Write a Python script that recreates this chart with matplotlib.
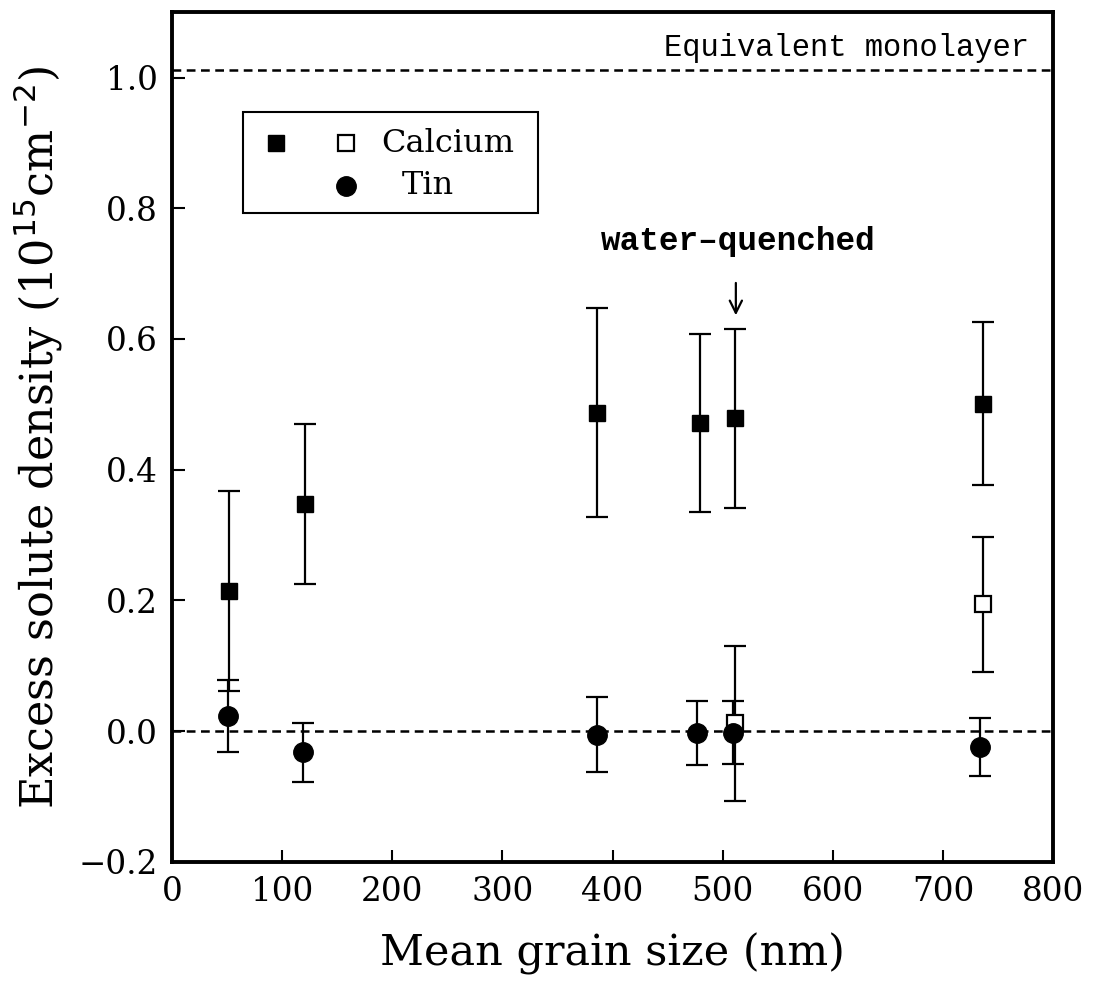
import numpy as np
import matplotlib
matplotlib.use("Agg")
import matplotlib.pyplot as plt
from matplotlib.patches import Rectangle

# calcium, filled squares (slow cooled)
ca_x = [52, 121, 386, 479, 511, 736]
ca_y = [0.215, 0.348, 0.487, 0.472, 0.479, 0.501]
ca_err = [0.153, 0.122, 0.160, 0.136, 0.137, 0.125]

# calcium, open squares
ca_open_x = [511, 736]
ca_open_y = [0.012, 0.194]
ca_open_err = [0.119, 0.103]

# tin, filled circles
sn_x = [51, 119, 386, 477, 509, 734]
sn_y = [0.024, -0.032, -0.005, -0.002, -0.002, -0.024]
sn_err = [0.055, 0.045, 0.058, 0.049, 0.048, 0.044]

monolayer = 1.012

plt.rcParams['font.family'] = 'DejaVu Serif'

fig = plt.figure(figsize=(10.93, 9.94), dpi=100)
ax = fig.add_axes([0.1574, 0.1328, 0.806, 0.855])

ekw = dict(ecolor='black', elinewidth=1.6, capsize=8, capthick=1.6, linestyle='none')
ax.errorbar(ca_x, ca_y, yerr=ca_err, marker='s', ms=12, mfc='black', mec='black', **ekw)
ax.errorbar(ca_open_x, ca_open_y, yerr=ca_open_err, marker='s', ms=12, mfc='white',
            mec='black', mew=1.6, **ekw)
ax.errorbar(sn_x, sn_y, yerr=sn_err, marker='o', ms=14, mfc='black', mec='black', **ekw)

dash = (0, (3.5, 2.2))
ax.axhline(0, color='black', lw=1.8, ls=dash, zorder=0)
ax.axhline(monolayer, color='black', lw=1.8, ls=dash, zorder=0)

mono = 'Liberation Mono'
ax.text(778, monolayer + 0.01, 'Equivalent monolayer', family=mono, fontsize=22,
        ha='right', va='bottom')
ax.text(514, 0.725, 'water\u2013quenched', family=mono, fontsize=23.5, ha='center',
        va='bottom', fontweight='bold')
ax.annotate('', xy=(512, 0.632), xytext=(512, 0.69),
            arrowprops=dict(arrowstyle='->', color='black', lw=1.6, mutation_scale=22))

# legend box
ax.add_patch(Rectangle((0.08, 0.764), 0.335, 0.118, transform=ax.transAxes,
                       fill=False, lw=1.5, ec='black'))
ax.plot([0.118], [0.846], 's', ms=11, color='black', transform=ax.transAxes)
ax.plot([0.197], [0.846], 's', ms=11, mfc='white', mec='black', mew=1.6,
        transform=ax.transAxes)
ax.plot([0.197], [0.796], 'o', ms=14, color='black', transform=ax.transAxes)
ax.text(0.238, 0.846, 'Calcium', transform=ax.transAxes, fontsize=23, va='center')
ax.text(0.261, 0.796, 'Tin', transform=ax.transAxes, fontsize=23, va='center')

ax.set_xlim(0, 800)
ax.set_ylim(-0.2, 1.1)
ax.set_xticks(np.arange(0, 801, 100))
ax.set_yticks(np.arange(-0.2, 1.01, 0.2))
ax.set_yticklabels(['\u22120.2', '0.0', '0.2', '0.4', '0.6', '0.8', '1.0'])
ax.tick_params(direction='in', length=9, width=1.5, labelsize=23.5, pad=10,
               top=False, right=False)
for s in ax.spines.values():
    s.set_linewidth(2.8)

ax.set_xlabel('Mean grain size (nm)', fontsize=31, labelpad=18)
ax.set_ylabel('Excess solute density (10$^{15}$cm$^{-2}$)', fontsize=32, labelpad=10)

fig.savefig('out.png', dpi=100)
